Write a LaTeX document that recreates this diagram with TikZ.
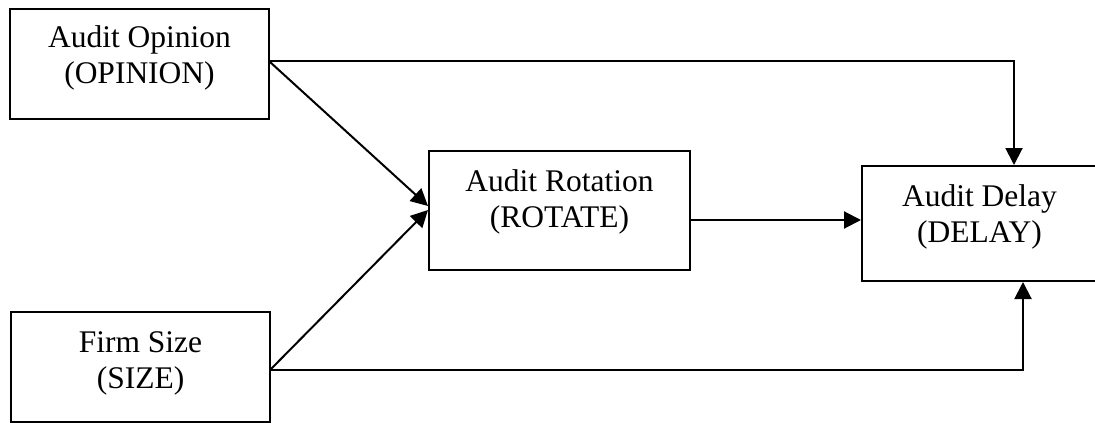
\documentclass[tikz,border=0pt]{standalone}
\usepackage{fontspec}
\setmainfont{Liberation Serif}
\usetikzlibrary{arrows.meta}
\tikzset{
  box/.style={draw=black, line width=2pt, rectangle, inner sep=0pt},
  lbl/.style={align=center, inner sep=0pt, anchor=base, font=\fontsize{31.5}{36}\selectfont},
  conn/.style={line width=2pt, -{Triangle[length=17pt,width=17pt]}},
}
\begin{document}
\begin{tikzpicture}[x=1pt,y=-1pt]
\useasboundingbox (0,0) rectangle (1095,423);
\clip (0,0) rectangle (1095,423);
\node[box, minimum width=259pt, minimum height=110pt] (b1) at (139.5,64) {};
\node[box, minimum width=261pt, minimum height=119pt] (b2) at (559.5,210.5) {};
\node[box, minimum width=235pt, minimum height=115pt] (b3) at (979.5,223.5) {};
\node[box, minimum width=259pt, minimum height=110pt] (b4) at (140.5,367) {};
\node[lbl] (t1) at ([yshift=-75pt]b1.north) {Audit Opinion\\(OPINION)};
\node[lbl] (t2) at ([yshift=-77pt]b2.north) {Audit Rotation\\(ROTATE)};
\node[lbl] (t3) at ([yshift=-77pt]b3.north) {Audit Delay\\(DELAY)};
\node[lbl] (t4) at ([yshift=-77pt]b4.north) {Firm Size\\(SIZE)};
\draw[conn] ([yshift=3pt]b1.east) -| ([xshift=34.5pt]b3.north);
\draw[conn] ([yshift=2pt]b1.east) -- ([yshift=4.5pt]b2.west);
\draw[conn] ([yshift=-2pt]b4.east) -- ([yshift=0.5pt]b2.west);
\draw[conn] ([yshift=-3pt]b4.east) -| ([xshift=43.5pt]b3.south);
\draw[conn] ([yshift=-9.5pt]b2.east) -- ([yshift=-9.5pt]b2.east -| b3.west);
\end{tikzpicture}
\end{document}
